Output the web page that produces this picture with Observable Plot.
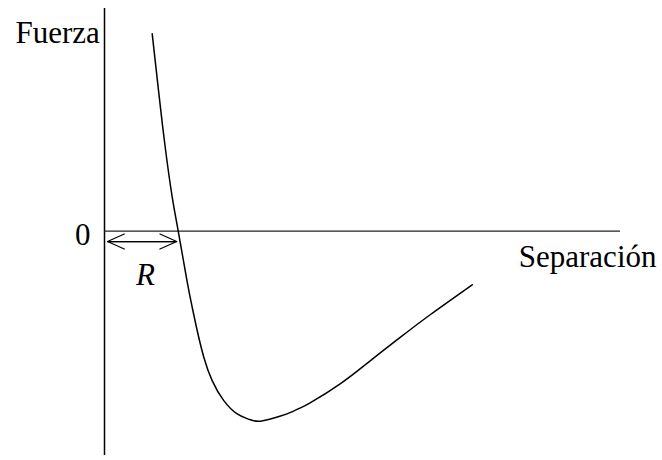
<!DOCTYPE html>
<html>
<head>
<meta charset="utf-8">
<script src="https://cdn.jsdelivr.net/npm/d3@7"></script>
<script src="https://cdn.jsdelivr.net/npm/@observablehq/plot@0.6"></script>
<style>
  html, body { margin: 0; padding: 0; background: #fff; }
  #chart svg { display: block; }
</style>
</head>
<body>
<div id="chart"></div>
<script>
// Separation (units of R) and force (units of |min force|)
const separation = [0.649, 0.735, 0.823, 0.918, 1.003, 1.122, 1.193, 1.261, 1.351, 1.465, 1.623, 1.805, 1.959, 2.122, 2.395, 2.531, 2.667, 2.803, 3.211, 3.619, 4.027, 4.435, 5.003];
const force      = [1.035, 0.737, 0.449, 0.186, 0.000, -0.260, -0.400, -0.522, -0.662, -0.785, -0.890, -0.960, -0.987, -0.998, -0.971, -0.952, -0.928, -0.901, -0.801, -0.680, -0.557, -0.438, -0.282];
const zeroCrossing = 1.003;      // R
const xDomain = [0, 7.02];
const yDomain = [-1.178, 1.168];
const yLabel = "Fuerza";
const xLabel = "Separación";
const zeroLabel = "0";
const rLabel = "R";

const curve = separation.map((x, i) => ({x, y: force[i]}));
const font = "'Liberation Serif', 'Times New Roman', serif";

const chart = Plot.plot({
  width: 662,
  height: 460,
  marginLeft: 104,
  marginRight: 42,
  marginTop: 8,
  marginBottom: 5,
  x: {domain: xDomain, axis: null},
  y: {domain: yDomain, axis: null},
  style: {fontFamily: font, background: "#fff"},
  marks: [
    Plot.ruleX([0], {stroke: "#000", strokeWidth: 1.5}),
    Plot.ruleY([0], {stroke: "#222", strokeWidth: 1.2}),
    Plot.line(curve, {x: "x", y: "y", curve: "natural", stroke: "#000", strokeWidth: 1.5}),
    Plot.arrow([{a: 0, b: zeroCrossing}], {x1: "a", x2: "b", y1: () => 0, y2: () => 0, dy: 10.5, insetStart: 3, insetEnd: 1.5, headAngle: 48, headLength: 23, strokeWidth: 1.2, stroke: "#000"}),
    Plot.arrow([{a: zeroCrossing, b: 0}], {x1: "a", x2: "b", y1: () => 0, y2: () => 0, dy: 10.5, insetStart: 1.5, insetEnd: 3, headAngle: 48, headLength: 23, strokeWidth: 1.2, stroke: "#000"}),
    Plot.text([yLabel], {frameAnchor: "top-left", text: d => d, textAnchor: "end", lineAnchor: "bottom", dx: -4.7, dy: 34.7, fontSize: 31, fontFamily: font, fill: "#000"}),
    Plot.text([zeroLabel], {x: () => 0, y: () => 0, text: d => d, textAnchor: "end", lineAnchor: "bottom", dx: -14, dy: 14, fontSize: 31, fontFamily: font, fill: "#000"}),
    Plot.text([xLabel], {x: () => xDomain[1], y: () => 0, text: d => d, textAnchor: "end", lineAnchor: "bottom", dx: 36, dy: 35.5, fontSize: 31, fontFamily: font, fill: "#000"}),
    Plot.text([rLabel], {x: () => zeroCrossing / 2, y: () => 0, text: d => d, textAnchor: "middle", lineAnchor: "bottom", dx: 4, dy: 53.5, fontSize: 31, fontStyle: "italic", fontFamily: font, fill: "#000"})
  ]
});
document.getElementById("chart").appendChild(chart);
</script>
</body>
</html>
